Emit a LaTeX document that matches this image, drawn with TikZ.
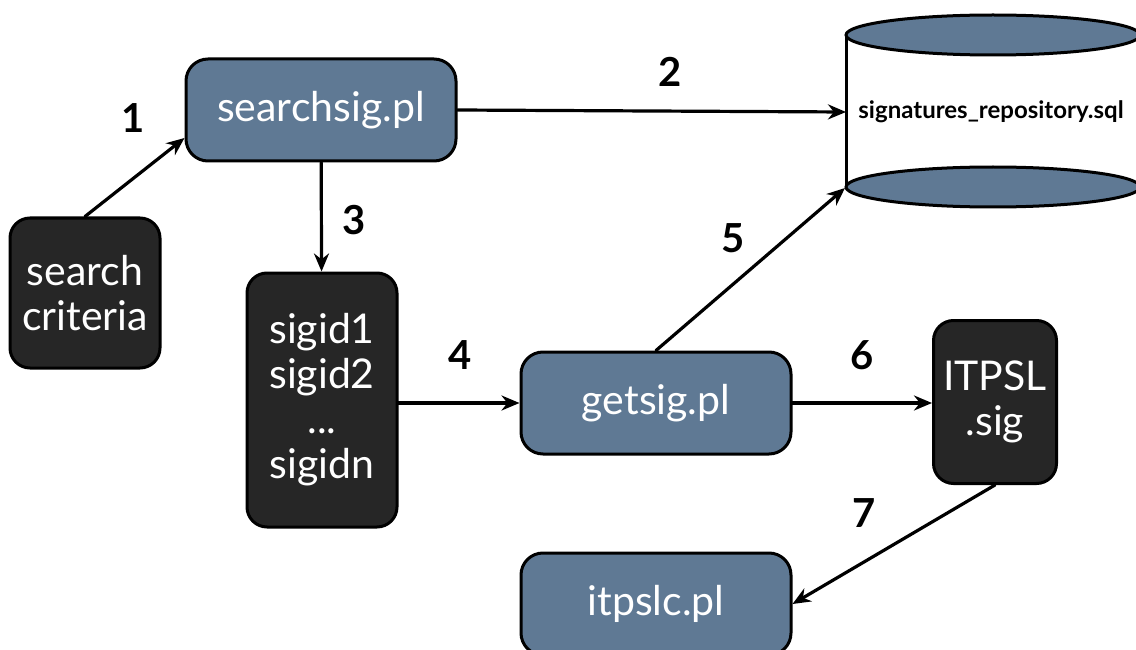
\documentclass[tikz,border=0pt]{standalone}
\usepackage{fontspec}
\setmainfont{Lato}
\usetikzlibrary{arrows.meta}

\definecolor{slateblue}{RGB}{95,121,148}
\definecolor{nearblack}{RGB}{38,38,38}

\begin{document}
\begin{tikzpicture}[%
        x = 1pt,
        y = -1pt,
        line width = 3pt,
        line cap = round,
        flow/.style = {
            -{Stealth[length = 18pt, width = 15pt]},
            line width = 3.2pt
        }
    ]
        \useasboundingbox (0,0) rectangle (1136,650);

        % Script boxes.
        \begin{scope}[%
            every node/.style = {
                rectangle,
                rounded corners = 22pt,
                draw = black,
                fill = slateblue,
                text = white,
                minimum width = 270pt,
                minimum height = 102pt,
                font = \fontsize{41}{44}\selectfont
            }
        ]
            \node (searchsig) at (321,110) {searchsig.pl};
            \node (getsig) at (656,403) {getsig.pl};
            \node (itpslc) at (656,604) {itpslc.pl};
        \end{scope}

        % Data boxes.
        \begin{scope}[%
            every node/.style = {
                rectangle,
                rounded corners = 20pt,
                draw = black,
                fill = nearblack,
                text = white,
                align = center,
                inner sep = 0pt,
                font = \fontsize{41}{45}\selectfont
            }
        ]
            \node[minimum width = 150pt, minimum height = 150pt] (criteria) at (85,293) {search\\criteria};
            \node[minimum width = 150pt, minimum height = 254pt] (sigids) at (322,400) {sigid1\\sigid2\\...\\sigidn};
            \node[minimum width = 123pt, minimum height = 163pt] (itpsl) at (995,402) {ITPSL\\.sig};
        \end{scope}

        % Repository drum.
        \draw (846,35) -- (846,187);
        \draw (1140,35) -- (1140,187);
        \draw[fill = slateblue] (993,35) ellipse [x radius = 147pt, y radius = 20pt];
        \draw[fill = slateblue] (993,187) ellipse [x radius = 147pt, y radius = 20pt];
        \node[font = \fontsize{24}{28}\selectfont\bfseries] (repo) at (991,112) {signatures\_repository.sql};
        \coordinate (drumside) at (846,112);
        \coordinate (drumfoot) at (845,188);

        % Arrows between the steps.
        \draw[flow] (criteria.north) -- ([yshift = -28pt]searchsig.west);
        \draw[flow] (searchsig.east) -- (drumside);
        \draw[flow] (searchsig) -- (sigids);
        \draw[flow] (sigids.east |- getsig) -- (getsig.west);
        \draw[flow] (getsig.north) -- (drumfoot);
        \draw[flow] (getsig.east) -- (itpsl.west |- getsig);
        \draw[flow] (itpsl.south) -- (itpslc.east);

        % Step numbers.
        \begin{scope}[every node/.style = {font = \fontsize{40}{44}\selectfont\bfseries}]
            \node (n1) at (133,118) {1};
            \node (n2) at (670,72) {2};
            \node (n3) at (354,220) {3};
            \node (n4) at (460,355) {4};
            \node (n5) at (733,238) {5};
            \node (n6) at (862,355) {6};
            \node (n7) at (864,513) {7};
        \end{scope}
    \end{tikzpicture}
\end{document}
